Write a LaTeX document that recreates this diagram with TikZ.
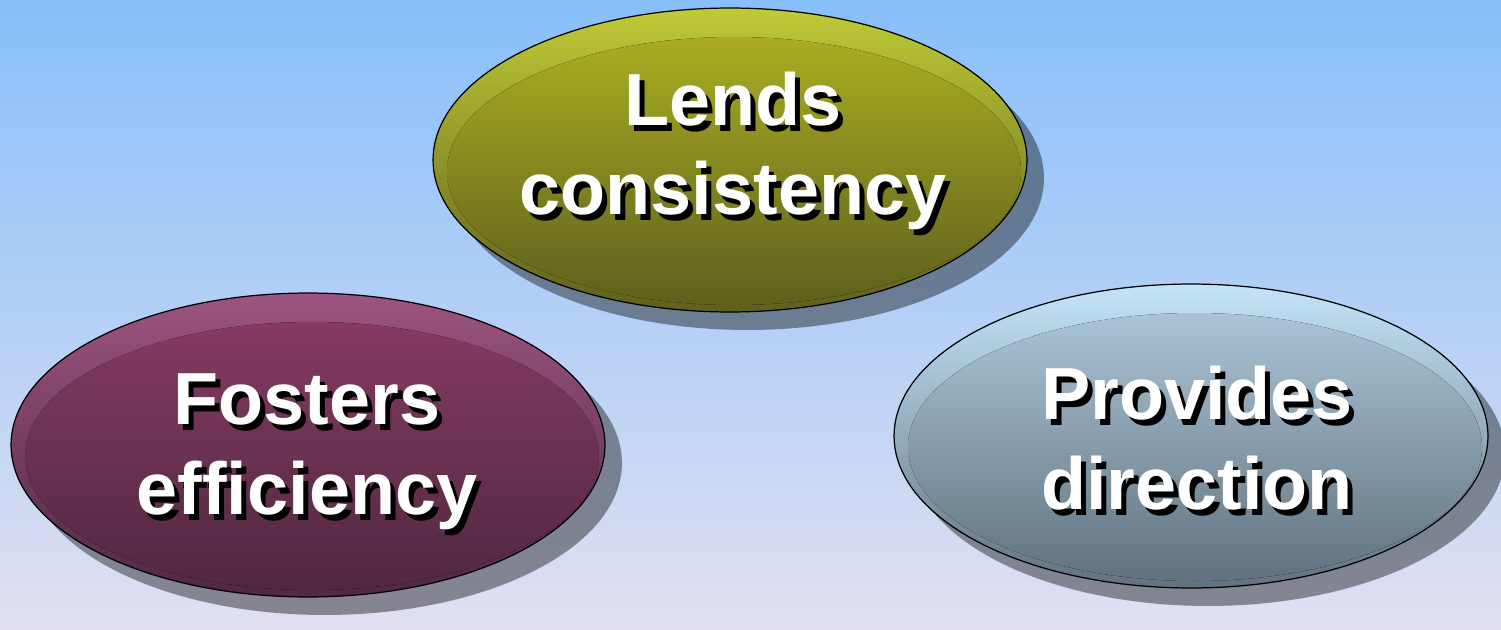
\documentclass[tikz,border=0pt]{standalone}
\usepackage{fontspec}
\setmainfont{Liberation Sans}
\usetikzlibrary{shapes.geometric,shadows,calc}
\definecolor{bgtop}{HTML}{87BFFB}
\definecolor{bgbottom}{HTML}{E1E0F1}
\definecolor{olivetop}{HTML}{BFCA36}
\definecolor{oliveglow}{HTML}{A9AD22}
\definecolor{olivebottom}{HTML}{5E601C}
\definecolor{plumtop}{HTML}{9C5480}
\definecolor{plumglow}{HTML}{853A62}
\definecolor{plumbottom}{HTML}{502840}
\definecolor{slatetop}{HTML}{C4E4F8}
\definecolor{slateglow}{HTML}{AAC4D6}
\definecolor{slatebottom}{HTML}{62727E}

\begin{document}
\begin{tikzpicture}[
		x=0.02cm,
		y=-0.02cm,
		bubble/.style={ellipse,draw=black,line width=0.7pt,inner sep=0pt,
			minimum width=11.88cm,minimum height=6.08cm,
			drop shadow={shadow xshift=0.34cm,shadow yshift=-0.36cm,opacity=0.4,fill=black}},
		gloss/.style={x radius=287,y radius=134},
		caption/.style={font=\fontsize{42}{51}\selectfont\bfseries,align=center,text=white,inner sep=0pt},
		captionshadow/.style={caption,text=black}
	]
	
	% Background
	\fill[top color=bgtop,bottom color=bgbottom] (0,0) rectangle (1501,629);
	\useasboundingbox (0,0) rectangle (1501,629);
	
	% Top ellipse
	\node[bubble,top color=olivetop,bottom color=olivebottom] (lends) at (730,160) {};
	\fill[top color=oliveglow,bottom color=olivebottom] ($(lends)+(4,11)$) ellipse [gloss];
	\node[captionshadow] at ($(lends)+(8,-3)$) {Lends\\consistency};
	\node[caption] (lendstext) at ($(lends)+(3,-9)$) {Lends\\consistency};
	
	% Left ellipse
	\node[bubble,top color=plumtop,bottom color=plumbottom] (fosters) at (308,445) {};
	\fill[top color=plumglow,bottom color=plumbottom] ($(fosters)+(4,11)$) ellipse [gloss];
	\node[captionshadow] at ($(fosters)+(4,13)$) {Fosters\\efficiency};
	\node[caption] (fosterstext) at ($(fosters)+(-1,7)$) {Fosters\\efficiency};
	
	% Right ellipse
	\node[bubble,top color=slatetop,bottom color=slatebottom] (provides) at (1191,436) {};
	\fill[top color=slateglow,bottom color=slatebottom] ($(provides)+(4,11)$) ellipse [gloss];
	\node[captionshadow] at ($(provides)+(11,8)$) {Provides\\direction};
	\node[caption] (providestext) at ($(provides)+(6,2)$) {Provides\\direction};
	
\end{tikzpicture}
\end{document}
